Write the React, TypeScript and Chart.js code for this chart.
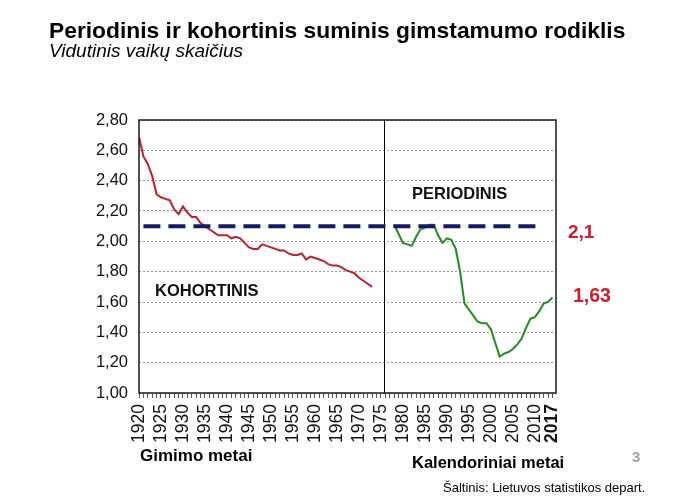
import React, { useEffect, useRef } from 'react';
import { Chart, registerables } from 'chart.js';

Chart.register(...registerables);

const FONT = 'Arial, "Liberation Sans", sans-serif';

// Cohort (by birth year)
const cohortYears = [
  1920, 1921, 1922, 1923, 1924, 1925, 1926, 1927, 1928, 1929,
  1930, 1931, 1932, 1933, 1934, 1935, 1936, 1937, 1938, 1939,
  1940, 1941, 1942, 1943, 1944, 1945, 1946, 1947, 1948, 1949,
  1950, 1951, 1952, 1953, 1954, 1955, 1956, 1957, 1958, 1959,
  1960, 1961, 1962, 1963, 1964, 1965, 1966, 1967, 1968, 1969,
  1970, 1971, 1972, 1973,
];
const cohortValues = [
  2.69, 2.56, 2.51, 2.43, 2.31, 2.29, 2.28, 2.27, 2.21, 2.18,
  2.23, 2.19, 2.16, 2.16, 2.12, 2.10, 2.08, 2.06, 2.04, 2.04,
  2.04, 2.02, 2.03, 2.02, 1.99, 1.96, 1.95, 1.95, 1.98, 1.97,
  1.96, 1.95, 1.94, 1.94, 1.92, 1.91, 1.91, 1.92, 1.88, 1.90,
  1.89, 1.88, 1.87, 1.85, 1.84, 1.84, 1.83, 1.81, 1.80, 1.79,
  1.76, 1.74, 1.72, 1.70,
];

// Period (calendar year)
const periodYears = [
  1978, 1979, 1980, 1981, 1982, 1983, 1984, 1985, 1986, 1987,
  1988, 1989, 1990, 1991, 1992, 1993, 1994, 1995, 1996, 1997,
  1998, 1999, 2000, 2001, 2002, 2003, 2004, 2005, 2006, 2007,
  2008, 2009, 2010, 2011, 2012, 2013, 2014,
];
const periodValues = [
  2.11, 2.05, 1.99, 1.98, 1.97, 2.03, 2.08, 2.09, 2.11, 2.11,
  2.04, 1.99, 2.02, 2.01, 1.95, 1.80, 1.59, 1.55, 1.51, 1.47,
  1.46, 1.46, 1.42, 1.33, 1.24, 1.26, 1.27, 1.29, 1.32, 1.36,
  1.43, 1.49, 1.50, 1.54, 1.59, 1.60, 1.63,
];

const replacementLevel = 2.1;
const replacementYears = [1921, 2011];
const dividerYear = 1975.7;

const xMin = 1920;
const xMax = 2014.8;
const minorTickFrom = 1920;
const minorTickTo = 2014;
const xLabelYears = [1920, 1925, 1930, 1935, 1940, 1945, 1950, 1955, 1960, 1965, 1970, 1975, 1980, 1985, 1990, 1995, 2000, 2005, 2010, 2014];
const xLabelTexts = ['1920', '1925', '1930', '1935', '1940', '1945', '1950', '1955', '1960', '1965', '1970', '1975', '1980', '1985', '1990', '1995', '2000', '2005', '2010', '2017'];
const boldLabelYear = 2014;

const yMin = 1.0;
const yMax = 2.8;
const yStep = 0.2;

const cohortText = 'KOHORTINIS';
const periodText = 'PERIODINIS';
const replacementText = '2,1';
const lastValue = 1.63;
const lastValueText = '1,63';

const overlayPlugin = {
  id: 'overlay',
  beforeDatasetsDraw(chart: any) {
    const { ctx, chartArea: a, scales } = chart;
    const x = scales.x;
    ctx.save();
    const dx = Math.round(x.getPixelForValue(dividerYear)) + 0.5;
    ctx.strokeStyle = '#000';
    ctx.lineWidth = 1;
    ctx.beginPath();
    ctx.moveTo(dx, a.top);
    ctx.lineTo(dx, a.bottom);
    ctx.stroke();
    ctx.restore();
  },
  afterDatasetsDraw(chart: any) {
    const { ctx, chartArea: a, scales } = chart;
    const y = scales.y;
    ctx.save();
    ctx.strokeStyle = '#1a1a1a';
    ctx.lineWidth = 1.5;
    ctx.strokeRect(a.left, a.top, a.right - a.left, a.bottom - a.top);

    ctx.textBaseline = 'alphabetic';
    ctx.textAlign = 'left';
    ctx.fillStyle = '#111';
    ctx.font = `bold 16.5px ${FONT}`;
    ctx.fillText(cohortText, a.left + 16, a.top + 176);
    ctx.fillText(periodText, a.left + 273, a.top + 79);

    ctx.fillStyle = '#c8202a';
    ctx.font = `bold 19px ${FONT}`;
    ctx.fillText(replacementText, a.right + 12, y.getPixelForValue(replacementLevel) + 12);
    ctx.font = `bold 19.5px ${FONT}`;
    ctx.fillText(lastValueText, a.right + 17, y.getPixelForValue(lastValue) + 5);
    ctx.restore();
  },
};

function ChartCanvas() {
  const ref = useRef<HTMLCanvasElement | null>(null);
  useEffect(() => {
    if (!ref.current) return;
    const chart = new Chart(ref.current, {
      type: 'line',
      data: {
        datasets: [
          {
            label: 'replacement',
            data: replacementYears.map((yr) => ({ x: yr, y: replacementLevel })),
            borderColor: '#141a66',
            borderWidth: 4,
            borderDash: [17, 8],
            pointRadius: 0,
            tension: 0,
          },
          {
            label: 'Periodinis',
            data: periodYears.map((yr, i) => ({ x: yr, y: periodValues[i] })),
            borderColor: '#238a23',
            borderWidth: 2,
            pointRadius: 0,
            tension: 0,
          },
          {
            label: 'Kohortinis',
            data: cohortYears.map((yr, i) => ({ x: yr, y: cohortValues[i] })),
            borderColor: '#b8222a',
            borderWidth: 2,
            pointRadius: 0,
            tension: 0,
          },
        ],
      },
      options: {
        animation: false,
        responsive: true,
        maintainAspectRatio: false,
        layout: { padding: { left: 0, top: 120, right: 137, bottom: 0 } },
        plugins: { legend: { display: false }, tooltip: { enabled: false } },
        scales: {
          x: {
            type: 'linear',
            min: xMin,
            max: xMax,
            afterBuildTicks: (scale: any) => {
              const t: any[] = [];
              for (let v = minorTickFrom; v <= minorTickTo; v++) t.push({ value: v });
              scale.ticks = t;
            },
            afterFit: (scale: any) => {
              scale.height = 109;
            },
            ticks: {
              autoSkip: false,
              minRotation: 90,
              maxRotation: 90,
              padding: 6,
              color: '#111',
              font: (ctx: any) => ({
                family: FONT,
                size: 17.5,
                weight: ctx.tick && ctx.tick.value === boldLabelYear ? 'bold' : 'normal',
              }),
              callback: (value: any) => {
                const k = xLabelYears.indexOf(Number(value));
                return k >= 0 ? xLabelTexts[k] : '';
              },
            },
            grid: {
              drawOnChartArea: false,
              drawTicks: true,
              tickLength: 5,
              color: '#555',
            },
            border: { display: false },
          },
          y: {
            min: yMin,
            max: yMax,
            afterFit: (scale: any) => {
              scale.width = 139;
            },
            ticks: {
              stepSize: yStep,
              padding: 11,
              color: '#111',
              font: { family: FONT, size: 16.5 },
              callback: (value: any) => Number(value).toFixed(2).replace('.', ','),
            },
            grid: { drawTicks: false, color: '#9a9a9a', lineWidth: 1 },
            border: { display: false, dash: [2, 2] },
          },
        },
      },
      plugins: [overlayPlugin],
    });
    return () => chart.destroy();
  }, []);
  return <canvas ref={ref} />;
}

const textBase: React.CSSProperties = {
  position: 'absolute',
  fontFamily: FONT,
  lineHeight: 1,
  whiteSpace: 'nowrap',
  color: '#000',
  margin: 0,
};

export default function App() {
  return (
    <div style={{ position: 'absolute', left: 0, top: 0, width: 693, height: 502, background: '#fff', overflow: 'hidden' }}>
      <div style={{ position: 'absolute', left: 0, top: 0, width: 693, height: 502 }}>
        <ChartCanvas />
      </div>
      <div style={{ ...textBase, left: 49, top: 19.3, fontSize: 22.8, fontWeight: 'bold' }}>
        Periodinis ir kohortinis suminis gimstamumo rodiklis
      </div>
      <div style={{ ...textBase, left: 49, top: 41, fontSize: 19, fontStyle: 'italic' }}>
        Vidutinis vaikų skaičius
      </div>
      <div style={{ ...textBase, left: 140, top: 447, fontSize: 17, fontWeight: 'bold' }}>Gimimo metai</div>
      <div style={{ ...textBase, left: 412, top: 454, fontSize: 16.5, fontWeight: 'bold' }}>Kalendoriniai metai</div>
      <div style={{ ...textBase, left: 632, top: 449, fontSize: 15, fontWeight: 'bold', color: '#a0a0a0' }}>3</div>
      <div style={{ ...textBase, left: 443, top: 481, fontSize: 13 }}>Šaltinis: Lietuvos statistikos depart.</div>
    </div>
  );
}
